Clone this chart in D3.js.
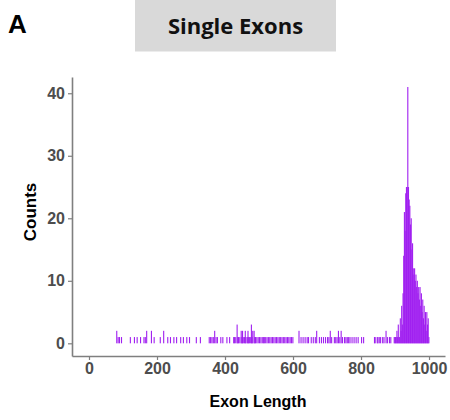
<!DOCTYPE html>
<html>
<head>
<meta charset="utf-8">
<script src="https://cdn.jsdelivr.net/npm/d3@7"></script>
<style>
  html, body { margin: 0; padding: 0; background: #fff; }
  svg { display: block; }
</style>
</head>
<body>
<svg id="chart" width="450" height="420"></svg>
<script>
// Histogram of single-exon lengths: bin start (bp) and count per bin
const binWidth = 2;
const binStarts = [
  80, 84, 88, 94,
  120, 132, 140, 150, 160, 164, 168, 182, 190, 208, 218, 230, 238, 248, 256, 268, 276, 286, 294, 314, 326,
  352, 356, 360, 364, 368, 372, 376, 386, 392, 404, 412,
  424, 426, 430, 434, 436, 438, 442, 446, 448, 450, 452, 456, 458, 460, 464, 466, 468, 470, 474, 476, 478, 480, 484, 486, 488, 492, 496,
  500, 504, 508, 512, 514, 518, 522, 526, 530, 534, 538, 542, 546, 550, 554, 558, 562, 566, 570, 574, 578, 582, 586, 590, 594, 598,
  616, 622, 628, 634, 640, 644, 652, 658, 664, 668, 676, 682, 688, 694, 700, 704, 708, 712, 720, 724, 728, 732, 736, 740, 744,
  750, 754, 758, 762, 766, 772, 778, 784, 790, 800, 806,
  838, 840, 846, 848, 852, 856, 862, 866, 872, 876, 882, 886, 896, 898, 900, 902, 904, 906, 908, 910, 912, 914, 916, 918,
  920, 922, 924, 926, 928, 930, 932, 934, 936, 938, 940, 942, 944, 946, 948, 950, 952, 954, 956, 958,
  960, 962, 964, 966, 968, 970, 972, 974, 976, 978, 980, 982, 984, 986, 988, 990, 992, 994, 996, 998
];
const binCounts = [
  2, 1, 1, 1,
  1, 1, 1, 1, 1, 1, 2, 2, 1, 1, 2, 1, 1, 1, 1, 1, 1, 1, 1, 1, 1,
  1, 1, 1, 1, 2, 1, 1, 1, 1, 1, 1,
  1, 1, 1, 3, 1, 1, 1, 2, 1, 2, 1, 1, 2, 1, 1, 2, 1, 1, 1, 3, 1, 2, 2, 1, 1, 1, 1,
  1, 1, 1, 1, 1, 1, 1, 1, 1, 1, 1, 1, 1, 1, 1, 1, 1, 1, 1, 1, 1, 1, 1, 1, 1, 1,
  2, 1, 1, 1, 1, 1, 1, 1, 1, 2, 1, 1, 1, 1, 1, 1, 2, 1, 1, 1, 1, 2, 1, 2, 1,
  1, 1, 1, 1, 1, 1, 1, 1, 1, 1, 1,
  1, 1, 1, 1, 1, 1, 1, 1, 2, 1, 1, 1, 1, 1, 1, 1, 2, 1, 3, 1, 1, 4, 2, 6,
  3, 8, 14, 21, 18, 24, 25, 25, 41, 25, 23, 22, 19, 20, 15, 16, 12, 11, 12, 10,
  11, 9, 10, 8, 9, 7, 9, 6, 8, 5, 7, 4, 6, 3, 5, 2, 5, 3, 4, 1
];
const xTicks = [0, 200, 400, 600, 800, 1000];
const yTicks = [0, 10, 20, 30, 40];

const bins = binStarts.map((s, i) => ({ x0: s, x1: s + binWidth, n: binCounts[i] }));

const svg = d3.select("#chart");
const panel = { left: 72, right: 445, top: 77, bottom: 356 };

const x = d3.scaleLinear().domain([-50, 1047]).range([panel.left, panel.right]);
const y = d3.scaleLinear().domain([-2.03, 42.6]).range([panel.bottom, panel.top]);

const tickFont = "'Liberation Sans', Arial, sans-serif";

// Panel letter
svg.append("text")
  .attr("x", 8).attr("y", 32.5)
  .attr("font-family", tickFont).attr("font-weight", "bold")
  .attr("font-size", 26).attr("fill", "#000")
  .text("A");

// Title banner
svg.append("rect")
  .attr("x", 135).attr("y", 0).attr("width", 201).attr("height", 51.5)
  .attr("fill", "#d9d9d9");
svg.append("text")
  .attr("x", 235.5).attr("y", 33.5)
  .attr("text-anchor", "middle")
  .attr("font-family", "'Open Sans', 'Noto Sans', sans-serif").attr("font-weight", "bold")
  .attr("font-size", 22).attr("fill", "#111")
  .text("Single Exons");

// Bars (kept at least ~1px wide so single-count bins stay visible)
svg.append("g")
  .selectAll("rect")
  .data(bins)
  .join("rect")
  .attr("x", d => x(d.x0))
  .attr("width", d => Math.max(x(d.x1) - x(d.x0), 1.1))
  .attr("y", d => y(d.n))
  .attr("height", d => y(0) - y(d.n))
  .attr("fill", "#a020f0");

// Axes
const axisColor = "#7f7f7f";
const xAxis = svg.append("g")
  .attr("transform", `translate(0,${panel.bottom})`)
  .call(d3.axisBottom(x).tickValues(xTicks).tickFormat(d3.format("d"))
    .tickSize(4).tickSizeOuter(0).tickPadding(3));
const yAxis = svg.append("g")
  .attr("transform", `translate(${panel.left},0)`)
  .call(d3.axisLeft(y).tickValues(yTicks).tickFormat(d3.format("d"))
    .tickSize(4).tickSizeOuter(0).tickPadding(3));

[xAxis, yAxis].forEach(g => {
  g.select(".domain").attr("stroke", axisColor).attr("stroke-width", 1.6);
  g.selectAll(".tick line").attr("stroke", axisColor).attr("stroke-width", 1.2);
  g.selectAll(".tick text")
    .attr("font-family", tickFont).attr("font-weight", "bold")
    .attr("font-size", 16).attr("fill", "#4d4d4d");
});

// Axis titles
svg.append("text")
  .attr("x", 258).attr("y", 406.5)
  .attr("text-anchor", "middle")
  .attr("font-family", tickFont).attr("font-weight", "bold")
  .attr("font-size", 16).attr("fill", "#000")
  .text("Exon Length");
svg.append("text")
  .attr("transform", "translate(36,212) rotate(-90)")
  .attr("text-anchor", "middle")
  .attr("font-family", tickFont).attr("font-weight", "bold")
  .attr("font-size", 17).attr("fill", "#000")
  .text("Counts");
</script>
</body>
</html>
